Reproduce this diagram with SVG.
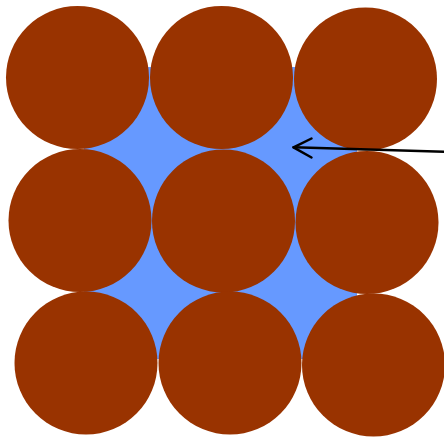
<svg xmlns="http://www.w3.org/2000/svg" width="444" height="438" viewBox="0 0 444 438">
<style>
.c{fill:#993300}
.a{fill:none;stroke:#000;stroke-width:2.5;stroke-linecap:round;stroke-linejoin:round}
</style>
<rect x="0" y="0" width="444" height="438" fill="#fff"/>
<rect id="gap" x="84" y="67" width="273" height="292" fill="#6699ff"/>
<g id="n11"><circle class="c" cx="77.5" cy="77.5" r="71.5"/></g>
<g id="n12"><circle class="c" cx="221.5" cy="77.5" r="71.5"/></g>
<g id="n13"><circle class="c" cx="365.5" cy="79" r="71.5"/></g>
<g id="n21"><circle class="c" cx="80" cy="220.5" r="71.5"/></g>
<g id="n22"><circle class="c" cx="223.5" cy="221" r="71.5"/></g>
<g id="n23"><circle class="c" cx="367" cy="222.5" r="71.5"/></g>
<g id="n31"><circle class="c" cx="86" cy="363" r="71.5"/></g>
<g id="n32"><circle class="c" cx="230" cy="363" r="71.5"/></g>
<g id="n33"><circle class="c" cx="373.5" cy="365" r="71.5"/></g>
<g id="connectors">
<path class="a" d="M446,151.7 L293.5,147.3"/>
<path class="a" d="M311.5,138.5 L293.5,147.3 L311.5,157.5"/>
</g>
</svg>
